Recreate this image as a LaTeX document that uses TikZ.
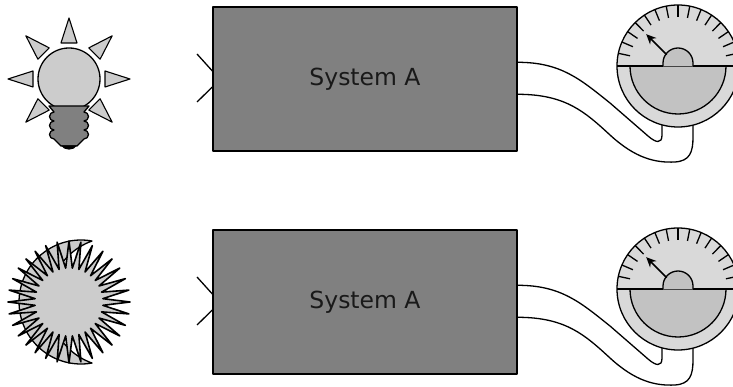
\documentclass[tikz,border=0pt]{standalone}
\usepackage{fontspec}
\setmainfont{DejaVu Sans}
\usetikzlibrary{arrows.meta}
\definecolor{boxgray}{HTML}{808080}
\definecolor{lightg}{HTML}{D9D9D9}
\definecolor{midg}{HTML}{C2C2C2}
\definecolor{bulbg}{HTML}{CCCCCC}
\tikzset{
  outl/.style={draw=black, line width=1.3pt, line join=round},
  sysbox/.style={outl, fill=boxgray, minimum width=304pt, minimum height=144pt, inner sep=0pt, text=black!90, font=\fontsize{23.5}{28}\selectfont},
  wire/.style={draw=black, line width=1.3pt},
  gauge/.pic={
    \draw[outl, fill=lightg] (0,0) circle (61);
    \draw[outl, fill=midg] (-48,0) arc[start angle=180, end angle=360, radius=48] -- cycle;
    \foreach \k in {0,...,14} \draw[line width=1.3pt] ({12+\k*156/14}:49) -- ({12+\k*156/14}:61);
    \draw[outl] (-61,0) -- (-15,0);
    \draw[outl] (15,0) -- (61,0);
    \fill[midg] (-15,0) -- (-15,3) arc[start angle=180, end angle=0, radius=15] -- (15,0) -- cycle;
    \draw[outl] (-15,0) -- (-15,3) arc[start angle=180, end angle=0, radius=15] -- (15,0);
    \draw[line width=1.6pt, -{Stealth[length=10pt, width=9pt]}] (135:16) -- (135:45);
  },
  bulb/.pic={
    \foreach \a in {0,45,90,135,180,225,315}
      \draw[outl, line width=1.1pt, fill=bulbg, rotate=\a] (61,0) -- (36,8) -- (36,-8) -- cycle;
    \draw[outl, fill=bulbg] (0,0) circle (31);
    \draw[outl, fill=boxgray] (-20,-27) -- (20,-27) -- (15,-33)
      arc[start angle=90, end angle=-90, radius=4.5]
      arc[start angle=90, end angle=-90, radius=4.5]
      arc[start angle=90, end angle=-90, radius=4.5]
      -- (8,-67) -- (-8,-67) -- (-15,-60)
      arc[start angle=270, end angle=90, radius=4.5]
      arc[start angle=270, end angle=90, radius=4.5]
      arc[start angle=270, end angle=90, radius=4.5]
      -- cycle;
    \fill[black] (-8,-66.5) .. controls (-5,-72) and (5,-72) .. (8,-66.5) -- cycle;
  },
  sun/.pic={
    \draw[outl, fill=bulbg] (23,61) arc[start angle=79.8, end angle=280.2, radius=62]
      arc[start angle=250.3, end angle=109.7, radius=64.8] -- cycle;
    \draw[outl, line width=1.6pt, fill=bulbg] (0:61)
      \foreach \i in {1,...,32} { -- ({(\i-0.5)*360/32}:34) -- ({\i*360/32}:61) } -- cycle;
  }
}
\newcommand{\systemrow}[1]{%
  \node[sysbox] (box#1) at (365,308) {System A};
  \coordinate (m#1) at (678,321);
  \coordinate (inA#1) at (197,333);
  \coordinate (inB#1) at (197,285);
  \draw[wire] (inA#1) -- ([yshift=8pt]box#1.west);
  \draw[wire] (inB#1) -- ([yshift=-8pt]box#1.west);
  \coordinate (wA#1) at (662,268);
  \coordinate (wB#1) at (693,268);
  \draw[wire] ([yshift=16.7pt]box#1.east) .. controls +(43,0) and (580,308) .. (610,284)
     -- (648,251) .. controls (656,244) and (662,243) .. (662,252) -- (wA#1);
  \draw[wire] ([yshift=-15.3pt]box#1.east) .. controls +(48,0) and (585,275) .. (610,252)
     .. controls (635,229) and (655,224) .. (675,225)
     .. controls (690,226) and (693,235) .. (693,250) -- (wB#1);
  \pic at (m#1) {gauge};
}
\begin{document}
\begin{tikzpicture}[x=1pt,y=1pt]
\useasboundingbox (0,0) rectangle (733,387);
\systemrow{1}
\coordinate (lamp) at (69,308);
\pic at (lamp) {bulb};
\begin{scope}[yshift=-223pt]
\systemrow{2}
\coordinate (star) at (69,308);
\pic at (star) {sun};
\end{scope}
\end{tikzpicture}
\end{document}
